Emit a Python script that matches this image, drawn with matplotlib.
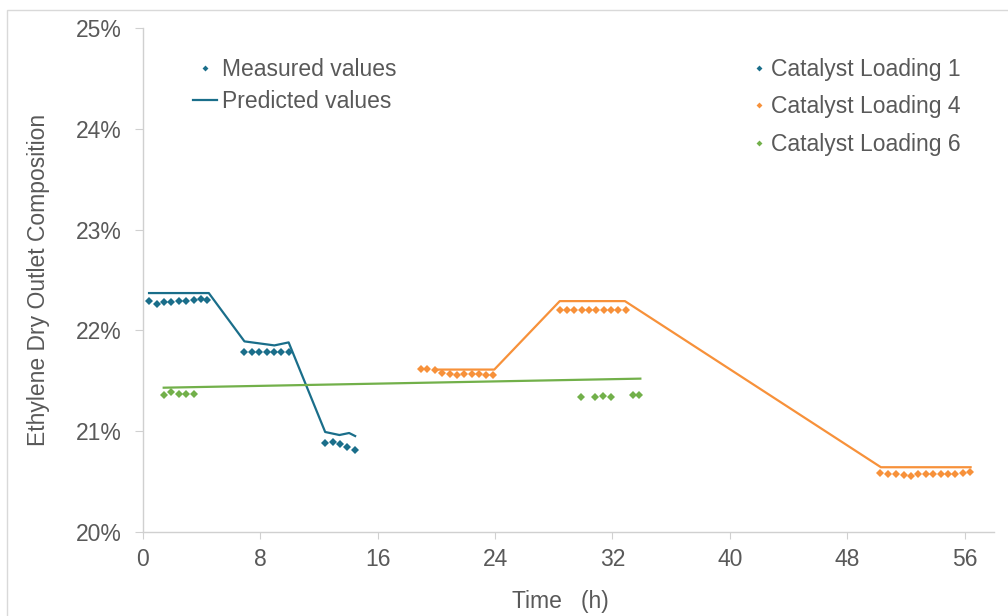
import matplotlib.pyplot as plt
from matplotlib.lines import Line2D
from matplotlib.patches import Rectangle
from matplotlib.ticker import PercentFormatter

plt.rcParams['font.family'] = ['Liberation Sans', 'DejaVu Sans']

# Catalyst loading 1 (teal)
cl1_meas_t = [0.43, 0.97, 1.47, 1.95, 2.47, 2.97, 3.46, 3.94, 4.37,
              6.93, 7.46, 7.95, 8.45, 8.92, 9.42, 9.94,
              12.43, 12.97, 13.43, 13.95, 14.47]
cl1_meas_y = [22.29, 22.26, 22.28, 22.28, 22.29, 22.29, 22.30, 22.31, 22.30,
              21.78, 21.78, 21.78, 21.78, 21.78, 21.78, 21.78,
              20.88, 20.89, 20.87, 20.84, 20.81]
cl1_pred_t = [0.43, 4.5, 6.93, 7.95, 8.97, 9.94, 12.43, 13.4, 14.06, 14.47]
cl1_pred_y = [22.37, 22.37, 21.89, 21.87, 21.85, 21.88, 20.99, 20.96, 20.98, 20.95]

# Catalyst loading 4 (orange)
cl4_meas_t = [18.93, 19.38, 19.88, 20.4, 20.9, 21.42, 21.92, 22.4, 22.89, 23.39, 23.87,
              28.4, 28.9, 29.4, 29.9, 30.4, 30.9, 31.4, 31.9, 32.4, 32.9,
              50.25, 50.79, 51.34, 51.83, 52.33, 52.83, 53.33, 53.85, 54.37, 54.89,
              55.37, 55.86, 56.34]
cl4_meas_y = [21.62, 21.62, 21.61, 21.58, 21.57, 21.56, 21.57, 21.57, 21.57, 21.56, 21.56,
              22.20, 22.20, 22.20, 22.20, 22.20, 22.20, 22.20, 22.20, 22.20, 22.20,
              20.58, 20.57, 20.57, 20.56, 20.55, 20.57, 20.57, 20.57, 20.57, 20.57,
              20.57, 20.58, 20.59]
cl4_pred_t = [19.95, 23.95, 28.41, 32.85, 50.29, 56.4]
cl4_pred_y = [21.61, 21.61, 22.29, 22.29, 20.64, 20.64]

# Catalyst loading 6 (green)
cl6_meas_t = [1.43, 1.95, 2.47, 2.97, 3.46, 29.85, 30.84, 31.37, 31.88, 33.38, 33.81]
cl6_meas_y = [21.355, 21.385, 21.37, 21.37, 21.37, 21.34, 21.34, 21.345, 21.34, 21.36, 21.36]
cl6_pred_t = [1.43, 33.9]
cl6_pred_y = [21.43, 21.52]

x_ticks = [0, 8, 16, 24, 32, 40, 48, 56]
y_ticks = [20, 21, 22, 23, 24, 25]

teal = '#1A6E8A'
orange = '#F7913A'
green = '#72B04A'
grey_txt = '#595959'
fs = 16.5

fig = plt.figure(figsize=(10.08, 6.16), dpi=100)
ax = fig.add_axes([0.1416, 0.1369, 0.8446, 0.8172])

# thin outer frame
fig.patches.append(Rectangle((7 / 1008, -0.2), 1.2, 1.2 - 10 / 616,
                             transform=fig.transFigure, fill=False,
                             edgecolor='#D9D9D9', linewidth=1.0))

series = [
    (cl1_meas_t, cl1_meas_y, cl1_pred_t, cl1_pred_y, teal),
    (cl4_meas_t, cl4_meas_y, cl4_pred_t, cl4_pred_y, orange),
    (cl6_meas_t, cl6_meas_y, cl6_pred_t, cl6_pred_y, green),
]
for mt, my, pt, py, c in series:
    ax.plot(pt, py, color=c, linewidth=1.6, zorder=2)
    ax.plot(mt, my, linestyle='none', marker='D', markersize=4.3,
            markeredgewidth=0, color=c, zorder=3)

ax.set_xlim(0, 58)
ax.set_ylim(20, 25)
ax.set_xticks(x_ticks)
ax.set_yticks(y_ticks)
ax.yaxis.set_major_formatter(PercentFormatter(decimals=0))

for s in ['top', 'right']:
    ax.spines[s].set_visible(False)
for s in ['left', 'bottom']:
    ax.spines[s].set_color('#D0D0D0')
    ax.spines[s].set_linewidth(1.0)
ax.tick_params(axis='y', length=6, color='#D0D0D0', labelsize=fs,
               labelcolor=grey_txt, pad=9)
ax.tick_params(axis='x', length=5, color='#D0D0D0', labelsize=fs,
               labelcolor=grey_txt, pad=7)

ax.set_ylabel('Ethylene Dry Outlet Composition', fontsize=fs, color=grey_txt)
ax.yaxis.set_label_coords(-0.1095, 0.5)
ax.set_xlabel('Time   (h)', fontsize=fs, color=grey_txt)
ax.xaxis.set_label_coords(0.49, -0.115)

# legend for mark type
type_handles = [
    Line2D([], [], linestyle='none', marker='D', markersize=3.0,
           markeredgewidth=0, color=teal),
    Line2D([], [], color=teal, linewidth=1.6),
]
leg1 = ax.legend(type_handles, ['Measured values', 'Predicted values'],
                 loc='upper left', bbox_to_anchor=(0.043, 0.968), frameon=False,
                 fontsize=fs, labelcolor=grey_txt, handlelength=1.05,
                 handletextpad=0.22, labelspacing=0.37, borderaxespad=0.2)
ax.add_artist(leg1)

# legend for catalyst loading
load_handles = [
    Line2D([], [], linestyle='none', marker='D', markersize=3.0,
           markeredgewidth=0, color=c) for c in (teal, orange, green)
]
ax.legend(load_handles, ['Catalyst Loading 1', 'Catalyst Loading 4',
                         'Catalyst Loading 6'],
          loc='upper left', bbox_to_anchor=(0.701, 0.968), frameon=False,
          fontsize=fs, labelcolor=grey_txt, handlelength=0.5,
          handletextpad=0.28, labelspacing=0.62, borderaxespad=0.2)

fig.savefig('out.png', dpi=100)
